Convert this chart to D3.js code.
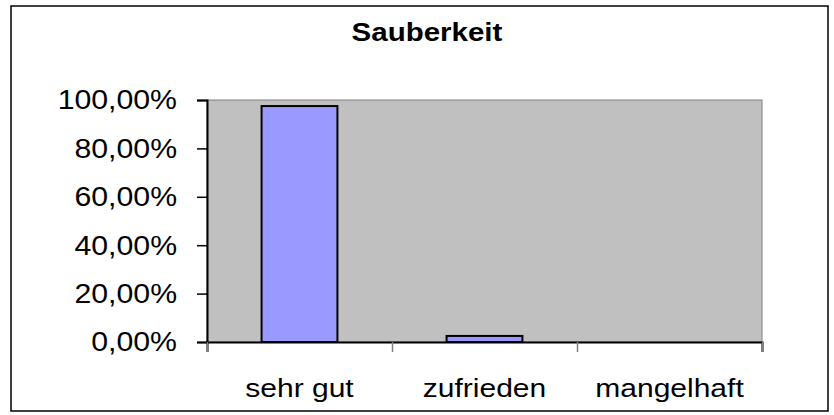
<!DOCTYPE html>
<html>
<head>
<meta charset="utf-8">
<script src="https://cdn.jsdelivr.net/npm/d3@7"></script>
<style>
  body { margin: 0; background: #fff; }
  text { font-family: "Liberation Sans", Arial, sans-serif; fill: #000; }
</style>
</head>
<body>
<div id="chart"></div>
<script>
// chart data
var categories = ["sehr gut", "zufrieden", "mangelhaft"];
var values = [0.975, 0.025, 0];
var yTicks = [0, 0.2, 0.4, 0.6, 0.8, 1];
var title = "Sauberkeit";

var width = 834, height = 415;
var plot = { left: 207, right: 762, top: 100, bottom: 342 };

var svg = d3.select("#chart").append("svg")
    .attr("width", width)
    .attr("height", height);

// outer frame
svg.append("rect")
    .attr("x", 11).attr("y", 6)
    .attr("width", 817).attr("height", 405)
    .attr("fill", "#fff")
    .attr("stroke", "#000")
    .attr("stroke-width", 1.5);

var x = d3.scaleBand()
    .domain(categories)
    .range([plot.left, plot.right])
    .paddingInner(0.59)
    .paddingOuter(0.295);

var xEdge = d3.scaleLinear()
    .domain([0, categories.length])
    .range([plot.left, plot.right]);

var y = d3.scaleLinear()
    .domain([0, 1])
    .range([plot.bottom, plot.top]);

// plot area
svg.append("rect")
    .attr("x", plot.left).attr("y", plot.top)
    .attr("width", plot.right - plot.left)
    .attr("height", plot.bottom - plot.top)
    .attr("fill", "#c0c0c0")
    .attr("stroke", "#808080")
    .attr("stroke-width", 1);

// bars
svg.selectAll(".bar")
    .data(values)
    .enter().append("rect")
    .attr("class", "bar")
    .attr("x", function(d, i) { return x(categories[i]); })
    .attr("y", function(d) { return y(d); })
    .attr("width", x.bandwidth())
    .attr("height", function(d) { return y(0) - y(d); })
    .attr("fill", "#9999ff")
    .attr("stroke", "#000")
    .attr("stroke-width", function(d) { return d > 0 ? 2 : 0; });

var fmt = function(d) { return d3.format(".2f")(d * 100).replace(".", ",") + "%"; };

// y axis
var ySx = 1.08;
var yAxis = svg.append("g")
    .attr("transform", "translate(" + plot.left + ",0)")
    .call(d3.axisLeft(y).tickValues(yTicks).tickSize(10).tickPadding(0).tickFormat(fmt));
yAxis.select(".domain").attr("stroke", "#000").attr("stroke-width", 2);
yAxis.selectAll(".tick line").attr("stroke", "#000").attr("stroke-width", 1.5);
yAxis.selectAll(".tick text")
    .attr("font-size", 28)
    .attr("font-family", null)
    .attr("x", -30 / ySx)
    .attr("dy", "0.32em")
    .attr("transform", "scale(" + ySx + ",1)");

// x axis: boundary ticks
var xTickAxis = svg.append("g")
    .attr("transform", "translate(0," + plot.bottom + ")")
    .call(d3.axisBottom(xEdge).tickValues([0, 1, 2, 3]).tickSize(10).tickFormat(""));
xTickAxis.select(".domain").attr("stroke", "#000").attr("stroke-width", 2);
xTickAxis.selectAll(".tick line").attr("stroke", "#808080").attr("stroke-width", 1.5);

// x axis: labels
var xAxis = svg.append("g")
    .attr("transform", "translate(0," + plot.bottom + ")")
    .call(d3.axisBottom(x).tickSize(0).tickPadding(0));
xAxis.select(".domain").remove();
xAxis.selectAll(".tick text")
    .attr("font-size", 25)
    .attr("font-family", null)
    .attr("y", 55)
    .attr("dy", null)
    .attr("transform", "scale(1.2,1)")
    .attr("x", 0);

// title
svg.append("text")
    .attr("x", 427 / 1.18)
    .attr("y", 41)
    .attr("text-anchor", "middle")
    .attr("font-size", 25)
    .attr("font-weight", "bold")
    .attr("transform", "scale(1.18,1)")
    .text(title);
</script>
</body>
</html>
